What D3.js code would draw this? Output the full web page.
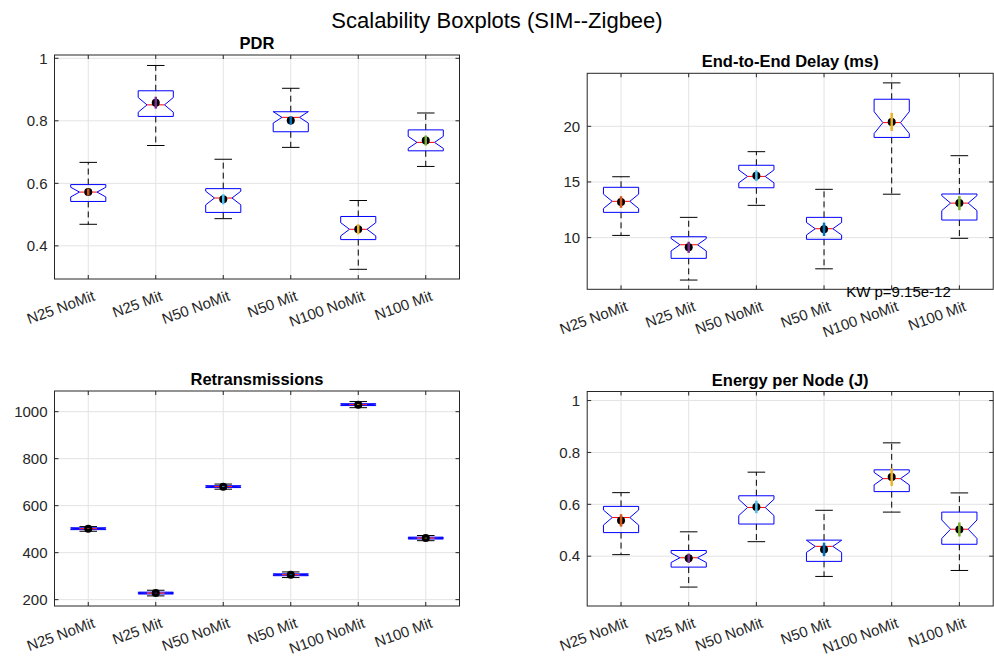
<!DOCTYPE html>
<html>
<head>
<meta charset="utf-8">
<script src="https://cdn.jsdelivr.net/npm/d3@7"></script>
<style>
  body { margin: 0; background: #fff; }
  svg text { font-family: "Liberation Sans", Arial, Helvetica, sans-serif; }
</style>
</head>
<body>
<div id="main"></div>
<script>
// categories shared by all four panels
const categories = ["N25 NoMit", "N25 Mit", "N50 NoMit", "N50 Mit", "N100 NoMit", "N100 Mit"];
const meanColors = ["#D95319", "#7E2F8E", "#4DBEEE", "#0072BD", "#EDB120", "#77AC30"];

// PDR
const pdrLo   = [0.469, 0.721, 0.487, 0.715, 0.325, 0.654];
const pdrQ1   = [0.542, 0.814, 0.507, 0.765, 0.420, 0.704];
const pdrMed  = [0.572, 0.851, 0.553, 0.811, 0.453, 0.731];
const pdrQ3   = [0.596, 0.896, 0.583, 0.829, 0.494, 0.771];
const pdrHi   = [0.667, 0.977, 0.677, 0.904, 0.545, 0.825];
const pdrMean = [0.572, 0.858, 0.549, 0.801, 0.453, 0.737];
const pdrCI   = [0.011, 0.019, 0.016, 0.013, 0.016, 0.016];
const pdrTicks = [0.4, 0.6, 0.8, 1];

// End-to-end delay (ms)
const delayLo   = [10.2, 6.19, 12.9, 7.2, 13.9, 9.94];
const delayQ1   = [12.27, 8.14, 14.48, 9.85, 19.0, 11.58];
const delayMed  = [13.26, 9.36, 15.5, 10.8, 20.33, 13.1];
const delayQ3   = [14.52, 10.08, 16.5, 11.82, 22.43, 13.92];
const delayHi   = [15.47, 11.82, 17.72, 14.34, 23.9, 17.36];
const delayMean = [13.2, 9.13, 15.56, 10.75, 20.39, 13.1];
const delayCI   = [0.52, 0.5, 0.48, 0.6, 0.81, 0.63];
const delayTicks = [10, 15, 20];

// Retransmissions
const retxLo   = [491, 216, 670, 294, 1017, 451];
const retxQ1   = [498, 224, 677, 302, 1026, 458];
const retxMed  = [502, 228, 681, 306, 1030, 462];
const retxQ3   = [506, 232, 685, 310, 1034, 466];
const retxHi   = [511, 240, 692, 318, 1043, 473];
const retxMean = [502, 228, 681, 306, 1030, 462];
const retxCI   = [1.5, 1.5, 1.5, 1.5, 1.5, 1.5];
const retxTicks = [200, 400, 600, 800, 1000];

// Energy per node (J)
const energyLo   = [0.406, 0.281, 0.456, 0.322, 0.570, 0.345];
const energyQ1   = [0.491, 0.358, 0.524, 0.380, 0.649, 0.446];
const energyMed  = [0.549, 0.394, 0.588, 0.438, 0.699, 0.504];
const energyQ3   = [0.592, 0.422, 0.633, 0.462, 0.733, 0.570];
const energyHi   = [0.645, 0.494, 0.724, 0.577, 0.837, 0.644];
const energyMean = [0.538, 0.392, 0.590, 0.426, 0.705, 0.503];
const energyCI   = [0.024, 0.018, 0.024, 0.026, 0.034, 0.027];
const energyTicks = [0.4, 0.6, 0.8, 1];

const nRuns = 30; // samples per group, used for notch size
const kwText = "KW p=9.15e-12";

const w = 994, h = 659;
const svg = d3.select("#main").append("svg").attr("width", w).attr("height", h);

svg.append("text")
    .attr("x", w / 2)
    .attr("y", 28)
    .attr("text-anchor", "middle")
    .style("font-size", "22px")
    .style("fill", "#000")
    .text("Scalability Boxplots (SIM--Zigbee)");

function makeRows(lo, q1, med, q3, hi, mean, ci) {
    return categories.map((c, i) => ({
        cat: c, i: i + 1, lo: lo[i], q1: q1[i], med: med[i], q3: q3[i], hi: hi[i], mean: mean[i], ci: ci[i],
        color: meanColors[i]
    }));
}

const panels = [
    {title: "PDR", x0: 54.5, x1: 459.5, y0: 55, y1: 279, ydom: [0.294, 1.0105], ticks: pdrTicks,
     rows: makeRows(pdrLo, pdrQ1, pdrMed, pdrQ3, pdrHi, pdrMean, pdrCI)},
    {title: "End-to-End Delay (ms)", x0: 587.2, x1: 993.2, y0: 73.3, y1: 289.3, ydom: [5.36, 24.76], ticks: delayTicks,
     rows: makeRows(delayLo, delayQ1, delayMed, delayQ3, delayHi, delayMean, delayCI), note: kwText},
    {title: "Retransmissions", x0: 54.5, x1: 459.5, y0: 391, y1: 606, ydom: [173, 1088], ticks: retxTicks,
     rows: makeRows(retxLo, retxQ1, retxMed, retxQ3, retxHi, retxMean, retxCI)},
    {title: "Energy per Node (J)", x0: 587.2, x1: 993.2, y0: 391.5, y1: 606, ydom: [0.208, 1.035], ticks: energyTicks,
     rows: makeRows(energyLo, energyQ1, energyMed, energyQ3, energyHi, energyMean, energyCI)}
];

const axisColor = "#262626";

function drawPanel(p) {
    const xScale = d3.scaleLinear().domain([0.5, categories.length + 0.5]).range([p.x0, p.x1]);
    const yScale = d3.scaleLinear().domain(p.ydom).range([p.y1, p.y0]);
    const g = svg.append("g");

    // grid
    g.selectAll(".vgrid").data(d3.range(1, categories.length + 1)).enter().append("line")
        .attr("x1", d => xScale(d)).attr("x2", d => xScale(d))
        .attr("y1", p.y0).attr("y2", p.y1)
        .attr("stroke", "#e3e3e3").attr("stroke-width", 1);
    g.selectAll(".hgrid").data(p.ticks).enter().append("line")
        .attr("x1", p.x0).attr("x2", p.x1)
        .attr("y1", d => yScale(d)).attr("y2", d => yScale(d))
        .attr("stroke", "#e3e3e3").attr("stroke-width", 1);

    const hw = (xScale(1.26) - xScale(1)); // half box width
    const boxes = g.selectAll(".box").data(p.rows).enter().append("g");

    // whiskers
    boxes.append("line")
        .attr("x1", d => xScale(d.i)).attr("x2", d => xScale(d.i))
        .attr("y1", d => yScale(d.q3)).attr("y2", d => yScale(d.hi))
        .attr("stroke", "#000").attr("stroke-dasharray", "6,4");
    boxes.append("line")
        .attr("x1", d => xScale(d.i)).attr("x2", d => xScale(d.i))
        .attr("y1", d => yScale(d.q1)).attr("y2", d => yScale(d.lo))
        .attr("stroke", "#000").attr("stroke-dasharray", "6,4");
    ["hi", "lo"].forEach(k => {
        boxes.append("line")
            .attr("x1", d => xScale(d.i) - hw / 2).attr("x2", d => xScale(d.i) + hw / 2)
            .attr("y1", d => yScale(d[k])).attr("y2", d => yScale(d[k]))
            .attr("stroke", "#000");
    });

    // notched box
    boxes.append("path")
        .attr("d", function (d) {
            const cx = xScale(d.i);
            const notch = 1.57 * (d.q3 - d.q1) / Math.sqrt(nRuns);
            const yq1 = yScale(d.q1), yq3 = yScale(d.q3), ym = yScale(d.med);
            const nhi = yScale(d.med + notch), nlo = yScale(d.med - notch);
            const xl = cx - hw, xr = cx + hw;
            const pts = [[xl, yq3], [xl, nhi], [cx - hw / 2, ym], [xl, nlo], [xl, yq1],
                         [xr, yq1], [xr, nlo], [cx + hw / 2, ym], [xr, nhi], [xr, yq3]];
            return d3.line()(pts) + "Z";
        })
        .attr("fill", "none").attr("stroke", "#0000ff").attr("stroke-width", 1);

    // median
    boxes.append("line")
        .attr("x1", d => xScale(d.i) - hw / 2).attr("x2", d => xScale(d.i) + hw / 2)
        .attr("y1", d => yScale(d.med)).attr("y2", d => yScale(d.med))
        .attr("stroke", "#ff0000").attr("stroke-width", 1);

    // mean with CI bar
    boxes.append("circle")
        .attr("cx", d => xScale(d.i)).attr("cy", d => yScale(d.mean))
        .attr("r", 4).attr("fill", "#000");
    boxes.append("line")
        .attr("x1", d => xScale(d.i)).attr("x2", d => xScale(d.i))
        .attr("y1", d => yScale(d.mean - d.ci)).attr("y2", d => yScale(d.mean + d.ci))
        .attr("stroke", d => d.color).attr("stroke-width", 2.5);

    // frame
    g.append("rect")
        .attr("x", p.x0).attr("y", p.y0).attr("width", p.x1 - p.x0).attr("height", p.y1 - p.y0)
        .attr("fill", "none").attr("stroke", axisColor).attr("stroke-width", 1);

    // ticks inside, both sides
    const tl = 4;
    d3.range(1, categories.length + 1).forEach(v => {
        g.append("line").attr("x1", xScale(v)).attr("x2", xScale(v)).attr("y1", p.y1).attr("y2", p.y1 - tl).attr("stroke", axisColor);
        g.append("line").attr("x1", xScale(v)).attr("x2", xScale(v)).attr("y1", p.y0).attr("y2", p.y0 + tl).attr("stroke", axisColor);
    });
    p.ticks.forEach(v => {
        g.append("line").attr("x1", p.x0).attr("x2", p.x0 + tl).attr("y1", yScale(v)).attr("y2", yScale(v)).attr("stroke", axisColor);
        g.append("line").attr("x1", p.x1).attr("x2", p.x1 - tl).attr("y1", yScale(v)).attr("y2", yScale(v)).attr("stroke", axisColor);
    });

    // y tick labels
    g.selectAll(".ylab").data(p.ticks).enter().append("text")
        .attr("x", p.x0 - 7).attr("y", d => yScale(d))
        .attr("dy", "0.35em")
        .attr("text-anchor", "end")
        .style("font-size", "15px").style("fill", axisColor)
        .text(d => String(d));

    // x tick labels, rotated
    g.selectAll(".xlab").data(categories).enter().append("text")
        .attr("transform", (d, i) => "translate(" + (xScale(i + 1) + 4) + "," + (p.y1 + 11) + ") rotate(-20)")
        .attr("dy", "0.71em")
        .attr("text-anchor", "end")
        .style("font-size", "15px").style("fill", axisColor)
        .text(d => d);

    // title
    g.append("text")
        .attr("x", (p.x0 + p.x1) / 2).attr("y", p.y0 - 6)
        .attr("text-anchor", "middle")
        .style("font-size", "16.5px").style("font-weight", "bold").style("fill", "#000")
        .text(p.title);

    if (p.note) {
        g.append("text")
            .attr("x", xScale(5.1)).attr("y", p.y1 + 2)
            .attr("dy", "0.35em")
            .attr("text-anchor", "middle")
            .style("font-size", "15px").style("fill", "#000")
            .text(p.note);
    }
}

panels.forEach(drawPanel);
</script>
</body>
</html>
